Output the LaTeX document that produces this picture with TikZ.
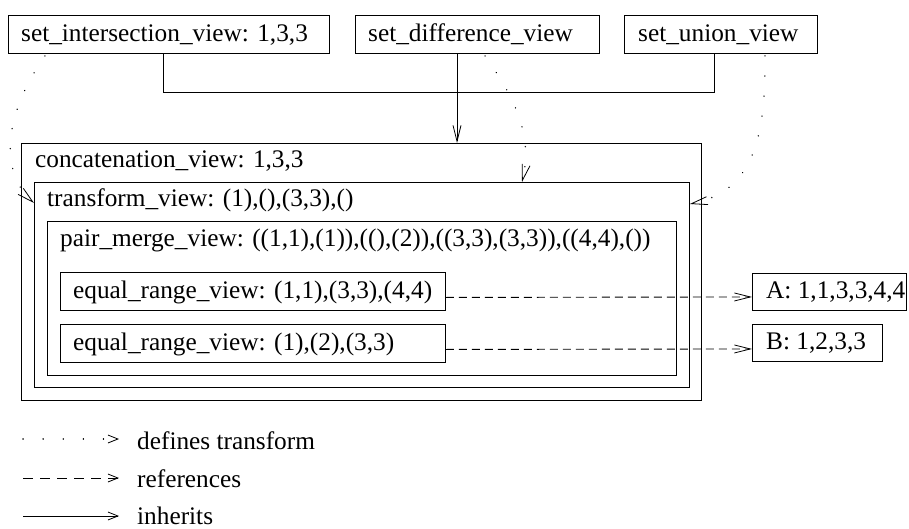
\documentclass[tikz,border=0pt]{standalone}
\usepackage{fontspec}
\setmainfont{Liberation Serif}
\usetikzlibrary{arrows.meta,calc}
\begin{document}
\begin{tikzpicture}[x=1pt,y=-1pt,
  box/.style={draw,line width=0.9pt,inner sep=0pt,anchor=north west},
  txt/.style={anchor=base west,inner sep=0pt,font=\fontsize{25.3}{30}\selectfont},
  conn/.style={line width=0.9pt},
  tip/.style={-{Straight Barb[length=16pt,width=8pt,line width=0.8pt]}},
  ltip/.style={-{Straight Barb[length=10pt,width=8pt,line width=0.8pt]}},
  dotline/.style={conn,line cap=round,line width=1.4pt,dash pattern=on 0.1pt off 20pt},
  dashline/.style={conn,dash pattern=on 8pt off 5pt},
  ldashline/.style={conn,dash pattern=on 10pt off 7pt}]
\useasboundingbox (0,0) rectangle (909,529);
% boxes
\node[box,minimum width=321pt,minimum height=38pt] (si) at (8,15) {};
\node[box,minimum width=244pt,minimum height=38pt] (sd) at (355,15) {};
\node[box,minimum width=193pt,minimum height=38pt] (su) at (624,15) {};
\node[box,minimum width=680pt,minimum height=257pt] (cv) at (21,143) {};
\node[box,minimum width=655pt,minimum height=205pt] (tv) at (34,182) {};
\node[box,minimum width=629pt,minimum height=154pt] (pm) at (47,221) {};
\node[box,minimum width=385pt,minimum height=38pt] (e1) at (60,272) {};
\node[box,minimum width=385pt,minimum height=38pt] (e2) at (60,324) {};
\node[box,minimum width=154pt,minimum height=37pt] (A) at (752,273) {};
\node[box,minimum width=130pt,minimum height=37pt] (B) at (752,324) {};
% labels
\node[txt] (tsi) at ($(si.north west)+(13,27)$) {set\_intersection\_view: 1,3,3};
\node[txt] (tsd) at ($(sd.north west)+(13,27)$) {set\_difference\_view};
\node[txt] (tsu) at ($(su.north west)+(14,27)$) {set\_union\_view};
\node[txt] (tcv) at ($(cv.north west)+(14,25)$) {concatenation\_view: 1,3,3};
\node[txt] (ttv) at ($(tv.north west)+(13,25)$) {transform\_view: (1),(),(3,3),()};
\node[txt] (tpm) at ($(pm.north west)+(13,25)$) {pair\_merge\_view: ((1,1),(1)),((),(2)),((3,3),(3,3)),((4,4),())};
\node[txt] (te1) at ($(e1.north west)+(13,26)$) {equal\_range\_view: (1,1),(3,3),(4,4)};
\node[txt] (te2) at ($(e2.north west)+(13,26)$) {equal\_range\_view: (1),(2),(3,3)};
\node[txt] (tA) at ($(A.north west)+(14,25)$) {A: 1,1,3,3,4,4};
\node[txt] (tB) at ($(B.north west)+(14,25)$) {B: 1,2,3,3};
% inheritance
\coordinate (siB) at ($(si.south west)+(155,0)$);
\coordinate (suB) at ($(su.south west)+(90,0)$);
\coordinate (sdB) at ($(sd.south west)+(102,0)$);
\draw[conn] (siB) -- ++(0,39) -| (suB);
\draw[conn,tip] (sdB) -- (sdB |- cv.north);
% defines transform (dotted)
\coordinate (siD) at ($(si.south west)+(37,2)$);
\coordinate (sdD) at ($(sd.south west)+(130,2)$);
\coordinate (suD) at ($(su.south west)+(141,2)$);
\draw[dotline,tip] (siD) .. controls (0,120) and (2,175) .. ($(tv.north west)+(0,21)$);
\draw[dotline,tip] (sdD) .. controls (520,105) and (532,140) .. ($(tv.north west)+(488,0)$);
\draw[dotline,tip] (suD) .. controls (766,140) and (752,192) .. ($(tv.north east)+(0,22)$);
% references (dashed)
\draw[dashline,tip] ($(e1.east)+(0,6)$) -- ($(A.west)+(0,5)$);
\draw[dashline,tip] ($(e2.east)+(0,6)$) -- ($(B.west)+(0,6)$);
% legend
\coordinate (l1a) at (23,439); \coordinate (l1b) at (119,439);
\coordinate (l2a) at (23,478); \coordinate (l2b) at (119,478);
\coordinate (l3a) at (23,516); \coordinate (l3b) at (119,516);
\draw[dotline,ltip] (l1a) -- (l1b);
\draw[ldashline,ltip] (l2a) -- (l2b);
\draw[conn,ltip] (l3a) -- (l3b);
\node[txt] (lg1) at (137,449) {defines transform};
\node[txt] (lg2) at (137,487) {references};
\node[txt] (lg3) at (137,524) {inherits};
\end{tikzpicture}
\end{document}
